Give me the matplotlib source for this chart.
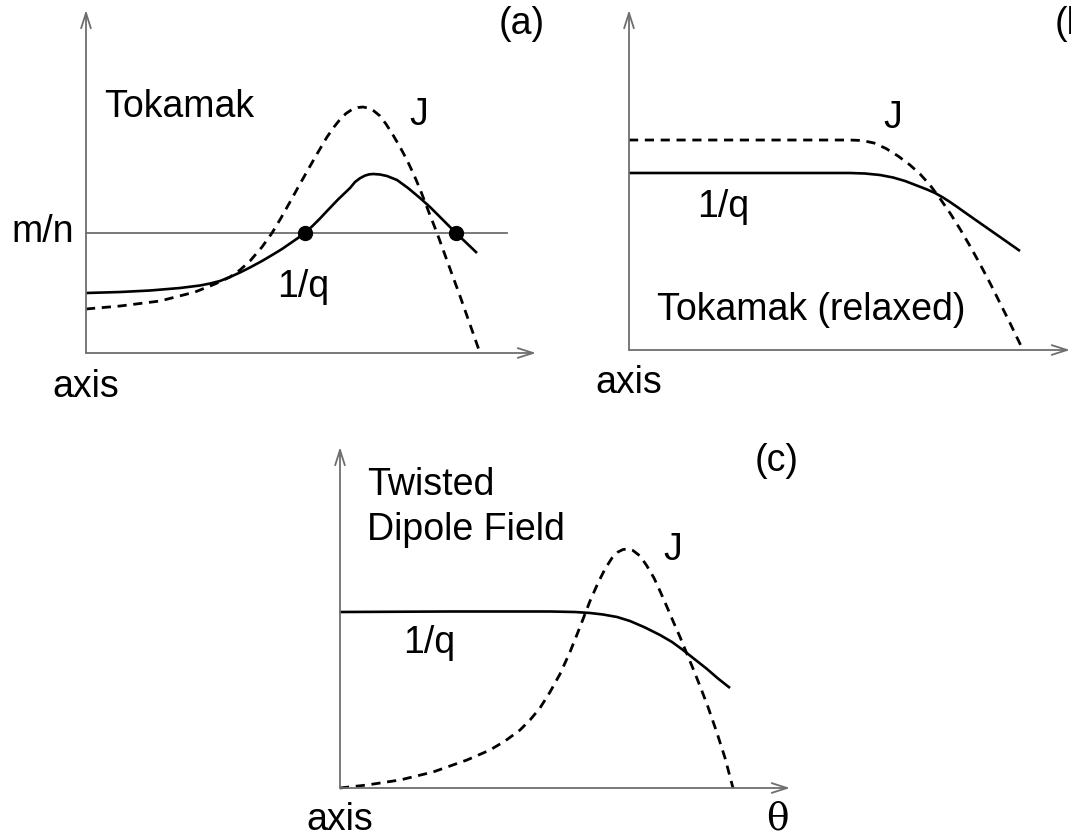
import matplotlib
matplotlib.use("Agg")
import matplotlib.pyplot as plt

plt.rcParams['font.family'] = ['Liberation Sans', 'DejaVu Sans']

# ---- Panel (a): tokamak, normalised radius r and profile values ----
a_r_q = [0.0000, 0.0756, 0.1422, 0.2089, 0.2533, 0.2756, 0.2978, 0.3200, 0.3422,
         0.3644, 0.3911, 0.4156, 0.4356, 0.4533, 0.4711, 0.4867, 0.5044, 0.5200,
         0.5356, 0.5600, 0.5867, 0.5978, 0.6089, 0.6200, 0.6289, 0.6378, 0.6533,
         0.6689, 0.6911, 0.7156, 0.7422, 0.7644, 0.7867, 0.8044, 0.8222, 0.8444,
         0.8689]
a_inv_q = [0.1749, 0.1778, 0.1822, 0.1895, 0.1968, 0.2026, 0.2099, 0.2216, 0.2347,
           0.2493, 0.2682, 0.2872, 0.3032, 0.3192, 0.3353, 0.3499, 0.3717, 0.3921,
           0.4140, 0.4475, 0.4810, 0.4985, 0.5096, 0.5172, 0.5207, 0.5219, 0.5204,
           0.5160, 0.5044, 0.4810, 0.4519, 0.4257, 0.3965, 0.3732, 0.3499, 0.3222,
           0.2915]
a_r_j = [0.0000, 0.0756, 0.1644, 0.2422, 0.2867, 0.3200, 0.3422, 0.3644, 0.3911,
         0.4133, 0.4333, 0.4533, 0.4711, 0.4911, 0.5133, 0.5356, 0.5511, 0.5644,
         0.5778, 0.5911, 0.6044, 0.6156, 0.6267, 0.6400, 0.6533, 0.6667, 0.6822,
         0.6978, 0.7133, 0.7289, 0.7422, 0.7600, 0.7800, 0.7978, 0.8156, 0.8311,
         0.8444, 0.8600, 0.8756]
a_j = [0.1283, 0.1370, 0.1516, 0.1778, 0.2012, 0.2216, 0.2420, 0.2682, 0.3090,
       0.3499, 0.3936, 0.4402, 0.4825, 0.5292, 0.5802, 0.6297, 0.6589, 0.6808,
       0.6983, 0.7099, 0.7157, 0.7172, 0.7143, 0.7055, 0.6910, 0.6676, 0.6356,
       0.6006, 0.5627, 0.5190, 0.4781, 0.4169, 0.3499, 0.2857, 0.2216, 0.1662,
       0.1166, 0.0583, 0.0000]
a_mn_level = 0.3499
a_mn_end = 0.936
a_resonant_r = [0.4867, 0.8222]

# ---- Panel (b): relaxed tokamak ----
b_r_q = [0.0000, 0.2744, 0.5011, 0.5351, 0.5692, 0.5986, 0.6259, 0.6553, 0.6757,
         0.6939, 0.7120, 0.7279, 0.7460, 0.7619, 0.7959, 0.8413, 0.8866]
b_inv_q = [0.5206, 0.5206, 0.5206, 0.5191, 0.5147, 0.5074, 0.4971, 0.4824, 0.4721,
           0.4618, 0.4485, 0.4353, 0.4191, 0.4044, 0.3735, 0.3324, 0.2912]
b_r_j = [0.0000, 0.2744, 0.5011, 0.5283, 0.5556, 0.5828, 0.6100, 0.6372, 0.6599,
         0.6825, 0.7052, 0.7279, 0.7506, 0.7732, 0.7959, 0.8186, 0.8413, 0.8639,
         0.8934]
b_j = [0.6176, 0.6176, 0.6176, 0.6162, 0.6088, 0.5926, 0.5706, 0.5441, 0.5176,
       0.4853, 0.4456, 0.4029, 0.3559, 0.3059, 0.2529, 0.1971, 0.1382, 0.0794,
       0.0000]

# ---- Panel (c): twisted dipole field, against theta ----
c_th_q = [0.0000, 0.2444, 0.4667, 0.5222, 0.5556, 0.5844, 0.6156, 0.6444, 0.6778,
          0.7111, 0.7378, 0.7622, 0.7889, 0.8156, 0.8400, 0.8667]
c_inv_q = [0.5161, 0.5176, 0.5176, 0.5161, 0.5132, 0.5088, 0.5015, 0.4897, 0.4707,
           0.4487, 0.4282, 0.4047, 0.3768, 0.3490, 0.3211, 0.2933]
c_th_j = [0.0000, 0.0600, 0.1333, 0.2067, 0.2822, 0.3333, 0.3667, 0.4000, 0.4222,
          0.4444, 0.4667, 0.4889, 0.5111, 0.5333, 0.5556, 0.5733, 0.5889, 0.6044,
          0.6178, 0.6289, 0.6400, 0.6511, 0.6667, 0.6822, 0.6978, 0.7111, 0.7267,
          0.7400, 0.7556, 0.7711, 0.7867, 0.8000, 0.8178, 0.8378, 0.8556, 0.8733]
c_j = [0.0000, 0.0088, 0.0235, 0.0469, 0.0821, 0.1114, 0.1378, 0.1701, 0.1994,
       0.2346, 0.2815, 0.3343, 0.3988, 0.4721, 0.5484, 0.6012, 0.6422, 0.6745,
       0.6921, 0.6994, 0.7009, 0.6965, 0.6804, 0.6510, 0.6158, 0.5777, 0.5308,
       0.4897, 0.4428, 0.3930, 0.3431, 0.2991, 0.2375, 0.1613, 0.0880, 0.0000]

W, H = 1071, 836
fig = plt.figure(figsize=(W / 100, H / 100), dpi=100)

FS = 27
AXIS_GREY = '#6e6e6e'
SOLID_KW = dict(color='black', lw=1.9, solid_capstyle='butt',
                solid_joinstyle='round', clip_on=False)
DASH_KW = dict(color='black', lw=2.0, dashes=(3.3, 2.4), clip_on=False)


def panel(left_px, origin_px, width_px, height_px):
    x0 = left_px / W
    y0 = (H - origin_px) / H
    ax = fig.add_axes([x0, y0, width_px / W, height_px / H])
    ax.set_xlim(0, 1)
    ax.set_ylim(0, 1)
    ax.axis('off')
    arrow = dict(arrowstyle='->,head_length=1.1,head_width=0.35',
                 color=AXIS_GREY, lw=1.3, shrinkA=0, shrinkB=0,
                 mutation_scale=10)
    ax.annotate('', xy=(1, 0), xytext=(0, 0), arrowprops=arrow,
                annotation_clip=False)
    ax.annotate('', xy=(0, 1), xytext=(0, 0), arrowprops=arrow,
                annotation_clip=False)
    return ax


# (a)
ax = panel(86, 353, 450, 343)
ax.plot([0, a_mn_end], [a_mn_level, a_mn_level], color=AXIS_GREY, lw=1.3,
        clip_on=False)
ax.plot(a_r_j, a_j, **DASH_KW)
ax.plot(a_r_q, a_inv_q, **SOLID_KW)
ax.plot(a_resonant_r, [a_mn_level] * len(a_resonant_r), 'o', color='black',
        ms=10, clip_on=False)
ax.text(0.040, 0.688, 'Tokamak', fontsize=FS, va='baseline')
ax.text(0.718, 0.665, 'J', fontsize=FS, va='baseline')
ax.text(0.424, 0.163, '1/q', fontsize=FS, va='baseline')
ax.text(-0.027, 0.324, 'm/n', fontsize=FS, va='baseline', ha='right')
ax.text(0.0, -0.128, 'axis', fontsize=FS, va='baseline', ha='center')
ax.text(1.02, 0.93, '(a)', fontsize=FS, va='baseline', ha='right')

# (b)
ax = panel(629, 350, 441, 340)
ax.plot(b_r_j, b_j, **DASH_KW)
ax.plot(b_r_q, b_inv_q, **SOLID_KW)
ax.text(0.576, 0.653, 'J', fontsize=FS, va='baseline')
ax.text(0.154, 0.391, '1/q', fontsize=FS, va='baseline')
ax.text(0.063, 0.088, 'Tokamak (relaxed)', fontsize=FS, va='baseline')
ax.text(0.0, -0.126, 'axis', fontsize=FS, va='baseline', ha='center')
ax.text(0.966, 0.93, '(b)', fontsize=FS, va='baseline', ha='left')

# (c)
ax = panel(340, 788, 450, 341)
ax.plot(c_th_j, c_j, **DASH_KW)
ax.plot(c_th_q, c_inv_q, **SOLID_KW)
ax.text(0.060, 0.859, 'Twisted', fontsize=FS, va='baseline')
ax.text(0.060, 0.727, 'Dipole Field', fontsize=FS, va='baseline')
ax.text(0.718, 0.669, 'J', fontsize=FS, va='baseline')
ax.text(0.140, 0.396, '1/q', fontsize=FS, va='baseline')
ax.text(0.971, 0.93, '(c)', fontsize=FS, va='baseline', ha='center')
ax.text(0.0, -0.123, 'axis', fontsize=FS, va='baseline', ha='center')
ax.text(0.971, -0.123, 'θ', fontsize=FS, va='baseline', ha='center',
        family=['DejaVu Serif'])

fig.savefig('out.png', dpi=100)
